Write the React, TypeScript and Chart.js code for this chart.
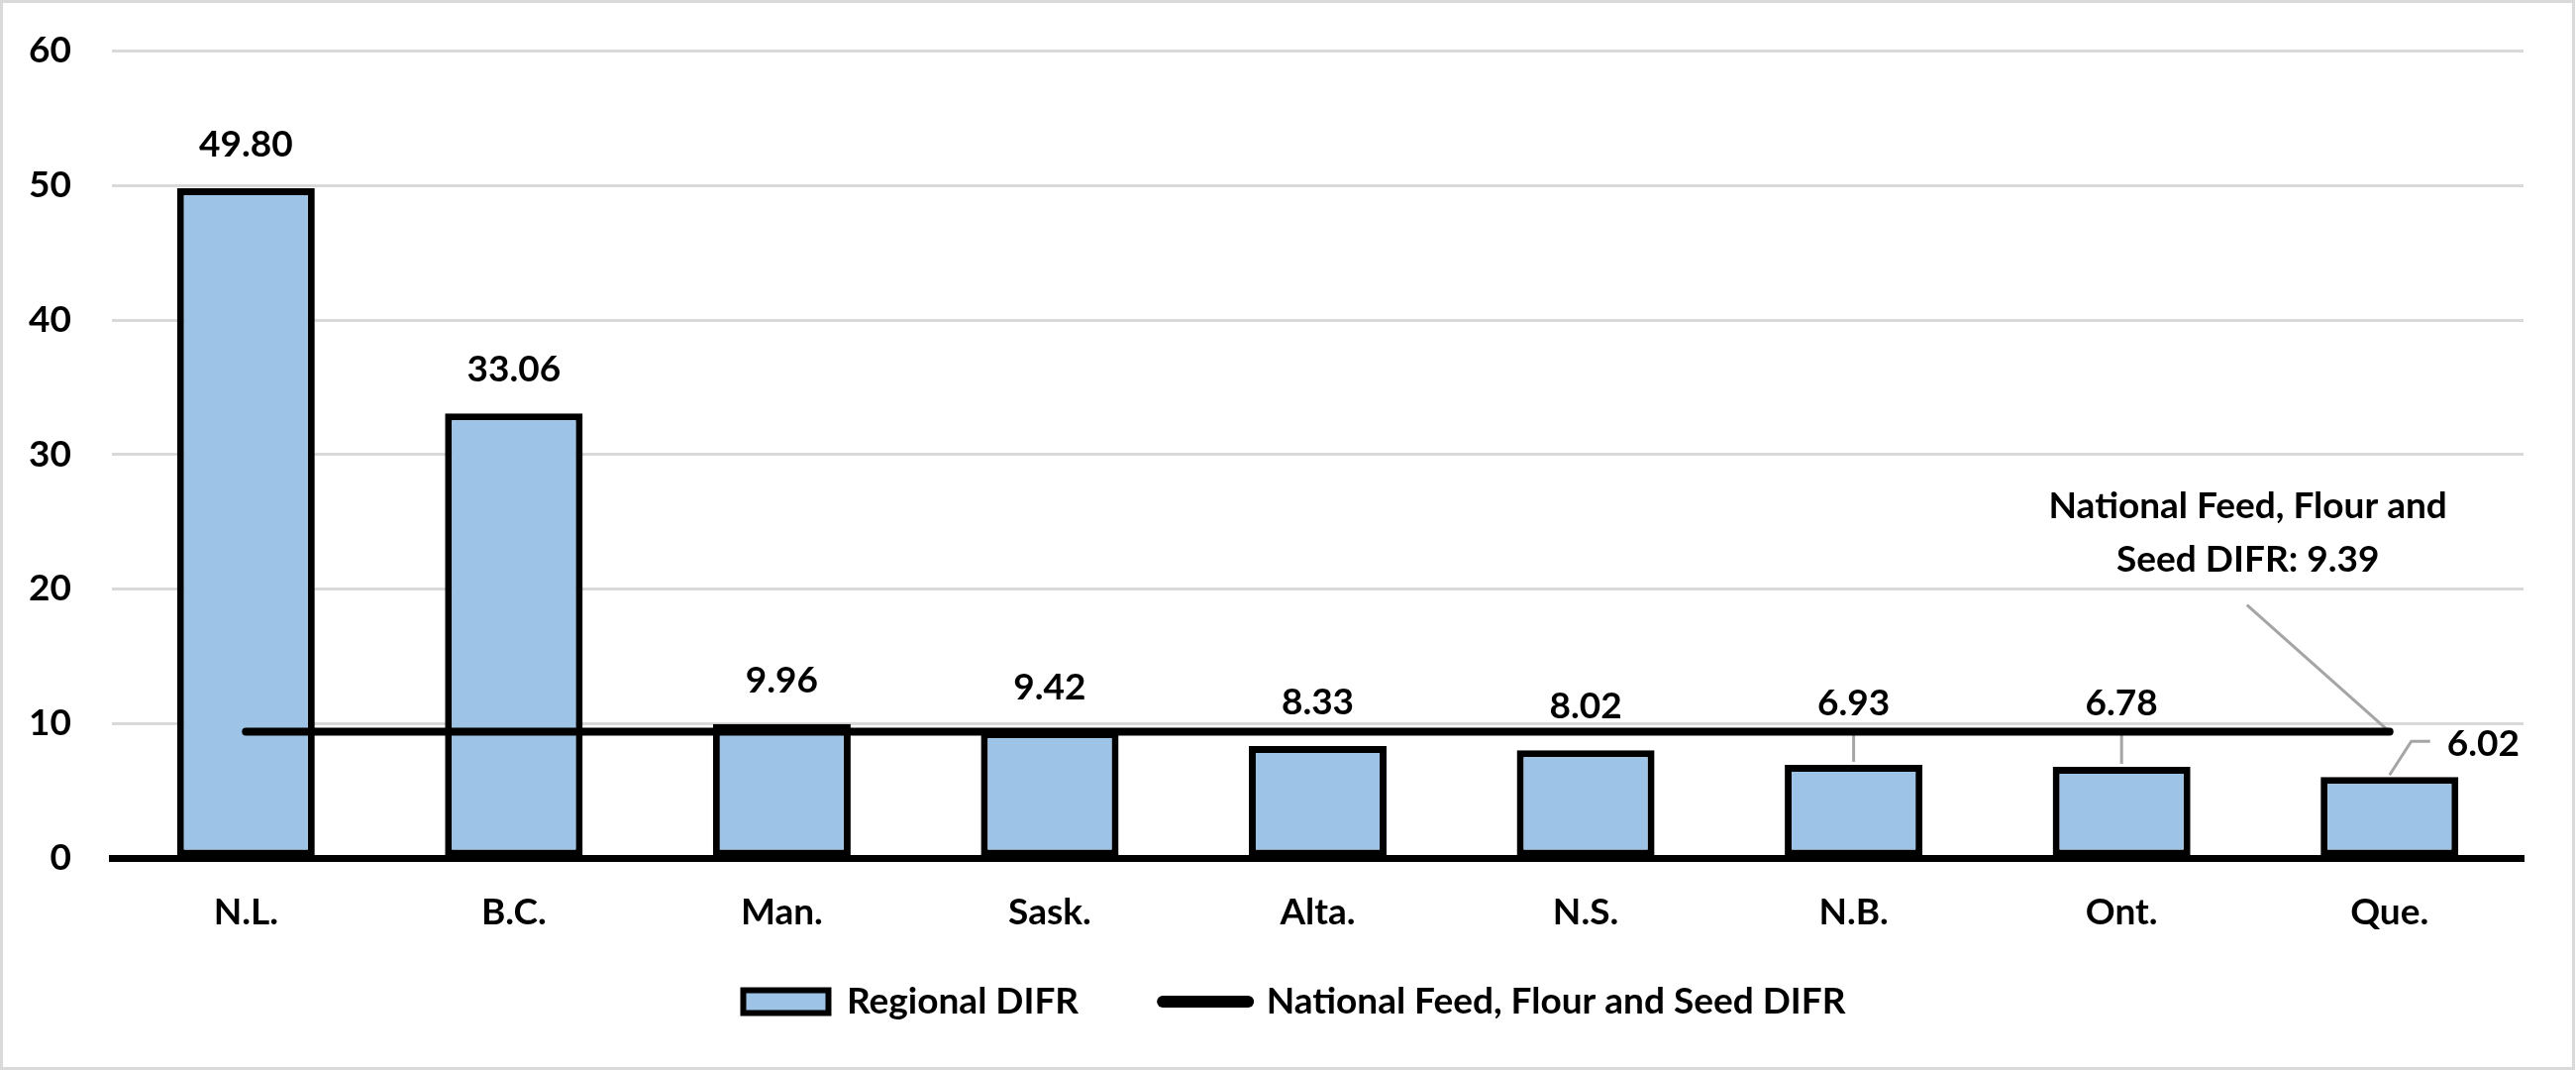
import React, { useEffect, useRef } from "react";
import { Chart, registerables } from "chart.js";

Chart.register(...registerables);

// ---- data ----
const categories = ["N.L.", "B.C.", "Man.", "Sask.", "Alta.", "N.S.", "N.B.", "Ont.", "Que."];
const regionalDIFR = [49.8, 33.06, 9.96, 9.42, 8.33, 8.02, 6.93, 6.78, 6.02];
const nationalDIFR = 9.39;
const nationalSeries = categories.map(() => nationalDIFR);
const seriesNames = ["Regional DIFR", "National Feed, Flour and Seed DIFR"];
const annotationLines = ["National Feed, Flour and", "Seed DIFR: " + nationalDIFR.toFixed(2)];
const yMin = 0;
const yMax = 60;
const yStep = 10;

// ---- styles ----
const FONT_FAMILY = "Lato, 'Open Sans', 'Liberation Sans', sans-serif";
const FONT_SIZE = 37;
const BAR_FILL = "#9dc3e6";
const GRID = "#d9d9d9";
const LEADER = "#a5a5a5";
const W = 2601;
const H = 1080;

type Placement = { x: number; y: number; align: CanvasTextAlign; leader: number[][] | null };

function computePlacements(chart: any): Placement[] {
  const barMeta = chart.getDatasetMeta(0);
  const yScale = chart.scales.y;
  const lineY = yScale.getPixelForValue(nationalDIFR);
  const half = 14;
  const lineHalf = 5;
  const n = barMeta.data.length;
  return barMeta.data.map((bar: any, i: number) => {
    const top = bar.y;
    const normal = top - 44;
    const overlaps = normal + half > lineY - lineHalf && normal - half < lineY + lineHalf;
    if (!overlaps) return { x: bar.x, y: normal, align: "center", leader: null };
    if (i === n - 1) {
      return {
        x: bar.x + 58,
        y: top - 33,
        align: "left",
        leader: [
          [bar.x, top - 2],
          [bar.x + 22, top - 36],
          [bar.x + 41, top - 36],
        ],
      };
    }
    return {
      x: bar.x,
      y: lineY - 28,
      align: "center",
      leader: [
        [bar.x, lineY],
        [bar.x, top - 3],
      ],
    };
  });
}

const labelPlugin = {
  id: "difrLabels",
  afterLayout(chart: any) {
    // let the category labels draw below the (short) axis box
    const x = chart.scales.x;
    if (x) x.bottom = chart.height;
    // centre the legend row a little to the right, as in the original
    const lg = chart.legend;
    if (lg) lg.left += 66;
  },
  beforeDatasetsDraw(chart: any) {
    const ctx = chart.ctx;
    const placements = computePlacements(chart);
    ctx.save();
    ctx.strokeStyle = LEADER;
    ctx.lineWidth = 3;
    placements.forEach((p) => {
      if (!p.leader) return;
      ctx.beginPath();
      p.leader.forEach((pt, k) => (k === 0 ? ctx.moveTo(pt[0], pt[1]) : ctx.lineTo(pt[0], pt[1])));
      ctx.stroke();
    });
    const lineMeta = chart.getDatasetMeta(1);
    const end = lineMeta.data[lineMeta.data.length - 1];
    ctx.beginPath();
    ctx.moveTo(end.x - 144, end.y - 128);
    ctx.lineTo(end.x, end.y);
    ctx.stroke();
    ctx.restore();
  },
  afterDatasetsDraw(chart: any) {
    const ctx = chart.ctx;
    const placements = computePlacements(chart);
    ctx.save();
    ctx.fillStyle = "#000";
    ctx.font = `bold ${FONT_SIZE}px ${FONT_FAMILY}`;
    ctx.textBaseline = "middle";
    placements.forEach((p, i) => {
      ctx.textAlign = p.align;
      ctx.fillText(regionalDIFR[i].toFixed(2), p.x, p.y);
    });
    const lineMeta = chart.getDatasetMeta(1);
    const end = lineMeta.data[lineMeta.data.length - 1];
    ctx.textAlign = "center";
    annotationLines.forEach((t, k) => {
      ctx.fillText(t, end.x - 143, end.y - 227 + k * 54);
    });
    ctx.restore();
  },
  afterDraw(chart: any) {
    const ctx = chart.ctx;
    ctx.save();
    ctx.strokeStyle = GRID;
    ctx.lineWidth = 3;
    ctx.strokeRect(1.5, 1.5, W - 4, H - 3);
    ctx.restore();
  },
};

export default function App() {
  const ref = useRef<HTMLCanvasElement | null>(null);

  useEffect(() => {
    if (!ref.current) return;
    const chart = new Chart(ref.current, {
      type: "bar",
      data: {
        labels: categories,
        datasets: [
          {
            type: "bar",
            label: seriesNames[0],
            data: regionalDIFR,
            backgroundColor: BAR_FILL,
            borderColor: "#000",
            borderWidth: 7,
            borderSkipped: false,
            barPercentage: 0.514,
            categoryPercentage: 1,
            order: 2,
          } as any,
          {
            type: "line",
            label: seriesNames[1],
            data: nationalSeries,
            borderColor: "#000",
            backgroundColor: "#000",
            borderWidth: 8,
            borderCapStyle: "round",
            pointRadius: 0,
            fill: false,
            order: 1,
          } as any,
        ],
      },
      options: {
        responsive: false,
        animation: false,
        devicePixelRatio: 1,
        events: [],
        layout: { padding: { left: 0, right: 53, top: 51.5, bottom: 40.5 } },
        scales: {
          x: {
            grid: { display: false, drawTicks: false },
            border: { display: true, color: "#000", width: 7 },
            ticks: {
              color: "#000",
              padding: 33,
              font: { family: FONT_FAMILY, size: FONT_SIZE, weight: "bold" },
            },
            afterFit: (scale: any) => {
              scale.height = 41.5;
            },
          },
          y: {
            min: yMin,
            max: yMax,
            ticks: {
              stepSize: yStep,
              color: "#000",
              padding: 0,
              font: { family: FONT_FAMILY, size: FONT_SIZE, weight: "bold" },
            },
            grid: {
              color: GRID,
              lineWidth: 3,
              drawTicks: true,
              tickLength: 41,
              tickColor: "rgba(0,0,0,0)",
            },
            border: { display: false },
            afterFit: (scale: any) => {
              scale.width = 113;
            },
          },
        },
        plugins: {
          tooltip: { enabled: false },
          legend: {
            position: "bottom",
            labels: {
              usePointStyle: true,
              pointStyleWidth: 86,
              boxHeight: 23,
              padding: 85,
              color: "#000",
              font: { family: FONT_FAMILY, size: FONT_SIZE, weight: "bold" },
              generateLabels: () => [
                {
                  text: seriesNames[0],
                  fillStyle: BAR_FILL,
                  strokeStyle: "#000",
                  lineWidth: 6,
                  pointStyle: "rect",
                  datasetIndex: 0,
                  hidden: false,
                  fontColor: "#000",
                } as any,
                {
                  text: seriesNames[1],
                  fillStyle: "#000",
                  strokeStyle: "#000",
                  lineWidth: 12,
                  lineCap: "round",
                  pointStyle: "line",
                  datasetIndex: 1,
                  hidden: false,
                  fontColor: "#000",
                } as any,
              ],
            },
          },
        },
      } as any,
      plugins: [labelPlugin],
    });
    return () => chart.destroy();
  }, []);

  return (
    <div style={{ position: "fixed", left: 0, top: 0, width: W, height: H, background: "#fff" }}>
      <canvas ref={ref} width={W} height={H} style={{ display: "block", width: W, height: H }} />
    </div>
  );
}
